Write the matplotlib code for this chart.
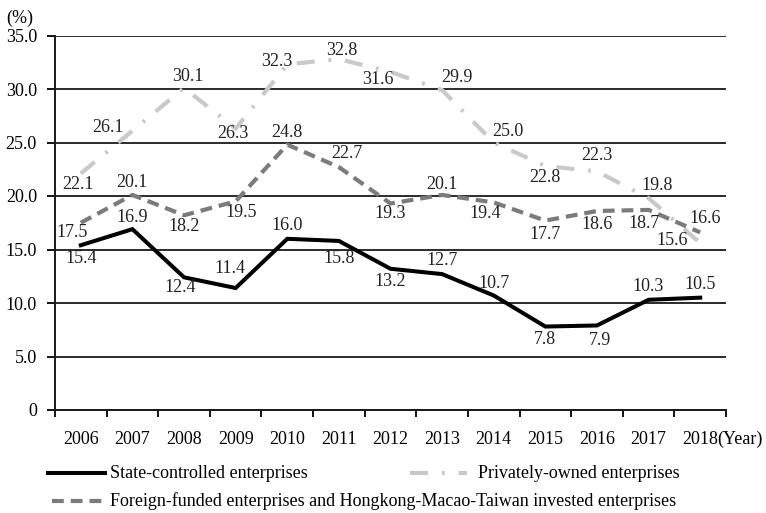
import numpy as np
from matplotlib import pyplot as plt
from matplotlib.lines import Line2D

years = ["2006", "2007", "2008", "2009", "2010", "2011", "2012",
         "2013", "2014", "2015", "2016", "2017", "2018"]
state = [15.4, 16.9, 12.4, 11.4, 16.0, 15.8, 13.2, 12.7, 10.7, 7.8, 7.9, 10.3, 10.5]
private = [22.1, 26.1, 30.1, 26.3, 32.3, 32.8, 31.6, 29.9, 25.0, 22.8, 22.3, 19.8, 15.6]
foreign = [17.5, 20.1, 18.2, 19.5, 24.8, 22.7, 19.3, 20.1, 19.4, 17.7, 18.6, 18.7, 16.6]

# label nudges in pixels (dx, dy), dy measured downward
state_off = [(0, 13), (0, -12), (-4, 10), (-6, -20), (0, -13), (0, 18), (0, 13),
             (0, -14), (0, -12), (0, 13), (3, 15), (0, -13), (0, -13)]
private_off = [(-3, 11), (-24, -3), (4, -11), (-3, 5), (-10, -3), (3, -9), (-13, 8),
               (15, -13), (14, -11), (0, 11), (0, -16), (9, -13), (-28, -3)]
foreign_off = [(-9, 10), (0, -12), (0, 11), (6, 11), (0, -12), (8, -14), (0, 10),
               (0, -10), (-9, 11), (0, 14), (0, 14), (-5, 14), (5, -14)]

FS = 13
plt.rcParams.update({"font.family": ["Liberation Serif", "DejaVu Serif"],
                     "font.size": FS,
                     "lines.scale_dashes": False})

W, H = 766, 513
fig = plt.figure(figsize=(W / 100, H / 100), dpi=100)
ax = fig.add_axes([55 / W, 1 - 410 / H, (726 - 55) / W, (410 - 35.5) / H])

x = np.arange(len(years))

state_style = dict(color="black", linewidth=2.9, solid_joinstyle="miter")
private_style = dict(color="#c9c9c9", linewidth=3.0, linestyle=(0, (13, 10, 2, 10)))
foreign_style = dict(color="#7b7b7b", linewidth=3.0, linestyle=(0, (8.5, 5)))

ax.plot(x, state, zorder=3, **state_style)
ax.plot(x, private, zorder=3, **private_style)
ax.plot(x, foreign, zorder=3, **foreign_style)

for vals, offs in ((state, state_off), (private, private_off), (foreign, foreign_off)):
    for i, v in enumerate(vals):
        dx, dy = offs[i]
        ax.annotate("%.1f" % v, (x[i], v), xytext=(dx, -dy),
                    textcoords="offset pixels", ha="center", va="center",
                    fontsize=FS, color="#222222", zorder=4)

ax.set_xlim(-0.5, len(years) - 0.5)
ax.set_ylim(0, 35)

yt = np.arange(0, 36, 5)
ax.set_yticks(yt)
ax.set_yticklabels(["0"] + ["%.1f" % t for t in yt[1:]])
ax.grid(True, axis="y", color="#1a1a1a", linewidth=1.3)
ax.set_axisbelow(True)

ax.set_xticks(x)
ax.set_xticklabels(years)
ax.set_xticks(np.arange(-0.5, len(years)), minor=True)
ax.tick_params(axis="x", which="major", length=0, pad=15, labelsize=FS)
ax.tick_params(axis="x", which="minor", length=5, width=1.3, direction="out")
ax.tick_params(axis="y", length=6, width=1.3, direction="out", pad=7, labelsize=FS)

for side in ("top", "right"):
    ax.spines[side].set_visible(False)
for side in ("left", "bottom"):
    ax.spines[side].set_linewidth(1.4)
    ax.spines[side].set_color("#1a1a1a")

fig.text(20 / W, 1 - 18 / H, "(%)", ha="center", va="center", fontsize=FS)
fig.text(717 / W, 1 - 439 / H, "(Year)", ha="left", va="center", fontsize=FS)

# legend drawn by hand: two entries on the first row, one on the second
legend_rows = [
    (48, 105, 110, 473, "State-controlled enterprises", state_style),
    (410, 467, 478, 473, "Privately-owned enterprises", private_style),
    (52, 105, 110, 501, "Foreign-funded enterprises and Hongkong-Macao-Taiwan invested enterprises",
     foreign_style),
]
for x0, x1, tx, ty, label, style in legend_rows:
    fig.add_artist(Line2D([x0 / W, x1 / W], [1 - ty / H, 1 - ty / H],
                          transform=fig.transFigure, **style))
    fig.text(tx / W, 1 - ty / H, label, ha="left", va="center", fontsize=FS)

fig.savefig("out.png", dpi=100)
